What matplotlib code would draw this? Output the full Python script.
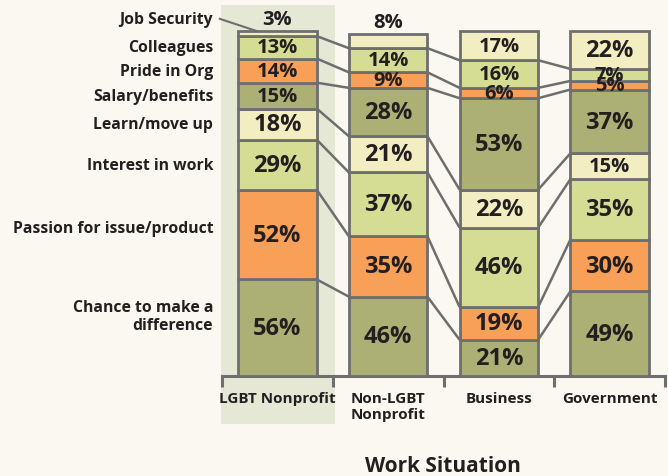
import matplotlib.pyplot as plt
from matplotlib.patches import Rectangle

categories = ["LGBT Nonprofit", "Non-LGBT\nNonprofit", "Business", "Government"]
# bottom to top
factors = ["Chance to make a\ndifference", "Passion for issue/product", "Interest in work",
           "Learn/move up", "Salary/benefits", "Pride in Org", "Colleagues", "Job Security"]
lgbt_np = [56, 52, 29, 18, 15, 14, 13, 3]
non_lgbt_np = [46, 35, 37, 21, 28, 9, 14, 8]
business = [21, 19, 46, 22, 53, 6, 16, 17]
government = [49, 30, 35, 15, 37, 5, 7, 22]
series = [lgbt_np, non_lgbt_np, business, government]

olive = "#adb074"
orange = "#f89f58"
lgreen = "#d5dc93"
pale = "#f3eec2"
seg_colors = [olive, orange, lgreen, pale, olive, orange, lgreen, pale]
edge = "#6e6e6e"
txt = "#231f20"
bg = "#faf8f0"

plt.rcParams["font.family"] = ["Open Sans", "DejaVu Sans"]

fig = plt.figure(figsize=(6.68, 4.77), dpi=100, facecolor=bg)
# highlight band behind the first category
fig.patches.append(Rectangle((221 / 668, 1 - 425 / 477), 114 / 668, 419 / 477,
                             transform=fig.transFigure, facecolor="#e6e8d6",
                             edgecolor="none", zorder=-5))

ax = fig.add_axes([222 / 668, 1 - 377 / 477, 443 / 668, 377 / 477])
ax.set_facecolor("none")
ax.set_xlim(-0.5, 3.5)
ax.set_ylim(0, 218.5)
w = 0.71

tops = []
for i, vals in enumerate(series):
    bottom = 0
    cum = []
    for k, v in enumerate(vals):
        ax.bar(i, v, w, bottom=bottom, color=seg_colors[k], edgecolor=edge,
               linewidth=2, zorder=3)
        fs = 17 if v >= 18 else 14.5
        if k == len(vals) - 1 and v < 10:
            ax.text(i, bottom + v + 7, f"{v}%", ha="center", va="center",
                    fontsize=fs, fontweight="bold", color=txt, zorder=4)
        else:
            ax.text(i, bottom + v / 2, f"{v}%", ha="center", va="center",
                    fontsize=fs, fontweight="bold", color=txt, zorder=4)
        bottom += v
        cum.append(bottom)
    tops.append(cum)

# connector lines between segment tops
for i in range(len(series) - 1):
    for k in range(len(factors) - 1):
        ax.plot([i + w / 2, i + 1 - w / 2], [tops[i][k], tops[i + 1][k]],
                color=edge, linewidth=1.8, zorder=2, solid_capstyle="butt")

# factor labels on the left
label_shift = [7, 4, 0, 0, 0, 0, 0, 0]
bottom = 0
for k, v in enumerate(lgbt_np):
    y = bottom + v / 2 + label_shift[k]
    if k == len(lgbt_np) - 1:
        y = bottom + v + 7
        ax.plot([-0.52, -0.19], [y, bottom + v], color=edge, linewidth=1.5,
                clip_on=False, zorder=2)
    ax.text(-0.58, y, factors[k], ha="right", va="center", fontsize=11.3,
            fontweight="bold", color=txt, linespacing=1.15, clip_on=False)
    bottom += v

for s in ["top", "right", "left"]:
    ax.spines[s].set_visible(False)
ax.spines["bottom"].set_color(edge)
ax.spines["bottom"].set_linewidth(2.2)
ax.set_yticks([])
ax.set_xticks([-0.5, 0.5, 1.5, 2.5, 3.5])
ax.set_xticklabels([])
ax.tick_params(axis="x", direction="out", length=8, width=2.2, color=edge)

for i, c in enumerate(categories):
    ax.text(i, -0.04, c, transform=ax.get_xaxis_transform(), ha="center", va="top",
            fontsize=11, fontweight="bold", color=txt, linespacing=1.2)

fig.text(443 / 668, 1 - 467 / 477, "Work Situation", ha="center", va="center",
         fontsize=15, fontweight="bold", color=txt)

fig.savefig("out.png", dpi=100, facecolor=bg)
